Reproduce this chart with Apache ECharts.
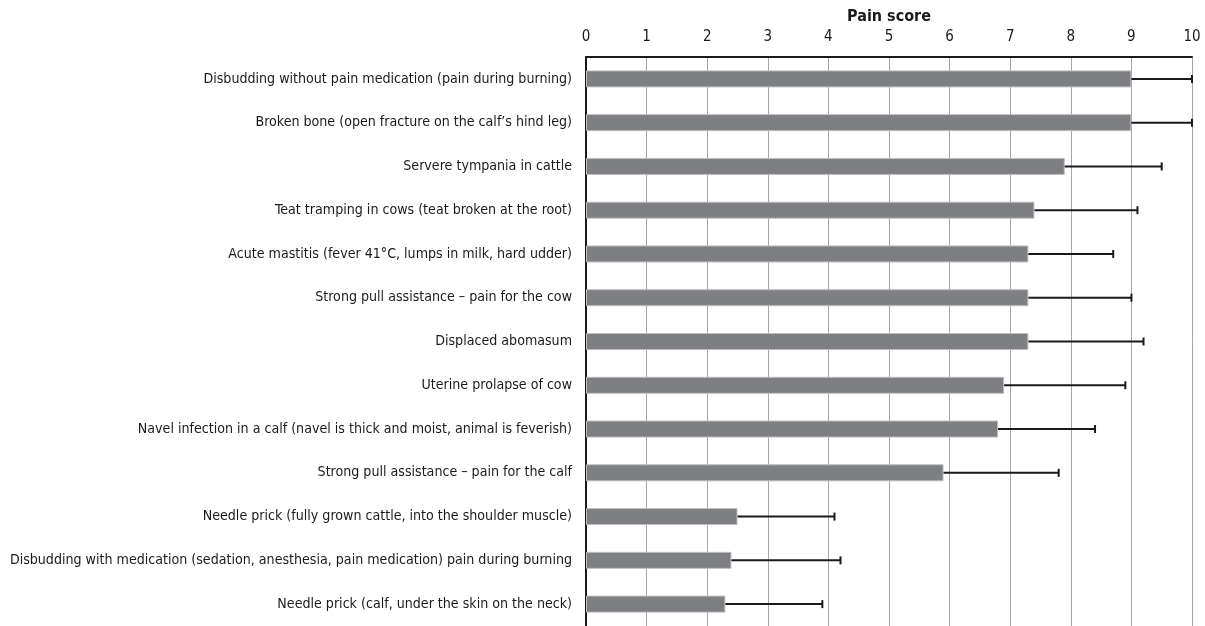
<!DOCTYPE html>
<html>
<head>
<meta charset="utf-8">
<script src="https://cdn.jsdelivr.net/npm/echarts@6/dist/echarts.min.js"></script>
<style>
  html, body { margin: 0; padding: 0; background: #fff; }
  #chart { width: 1205px; height: 626px; }
</style>
</head>
<body>
<div id="chart"></div>
<script>
// Pain scores per condition (mean) and the upper error-bar length
const categories = [
  'Disbudding without pain medication (pain during burning)',
  'Broken bone (open fracture on the calf\u2019s hind leg)',
  'Servere tympania in cattle',
  'Teat tramping in cows (teat broken at the root)',
  'Acute mastitis (fever 41\u00b0C, lumps in milk, hard udder)',
  'Strong pull assistance \u2013 pain for the cow',
  'Displaced abomasum',
  'Uterine prolapse of cow',
  'Navel infection in a calf (navel is thick and moist, animal is feverish)',
  'Strong pull assistance \u2013 pain for the calf',
  'Needle prick (fully grown cattle, into the shoulder muscle)',
  'Disbudding with medication (sedation, anesthesia, pain medication) pain during burning',
  'Needle prick (calf, under the skin on the neck)'
];
const meanScores = [9.0, 9.0, 7.9, 7.4, 7.3, 7.3, 7.3, 6.9, 6.8, 5.9, 2.5, 2.4, 2.3];
const errorUp   = [1.0, 1.0, 1.6, 1.7, 1.4, 1.7, 1.9, 2.0, 1.6, 1.9, 1.6, 1.8, 1.6];
const axisTicks = ['0', '1', '2', '3', '4', '5', '6', '7', '8', '9', '10'];

const FONT = '"Liberation Sans Narrow", "DejaVu Sans Condensed", "Liberation Sans", sans-serif';

const errorData = meanScores.map((v, i) => [i, v, v + errorUp[i]]);

const chart = echarts.init(document.getElementById('chart'));
chart.setOption({
  animation: false,
  backgroundColor: '#ffffff',
  grid: { left: 586, right: 13, top: 57, bottom: 0, containLabel: false },
  xAxis: {
    type: 'value',
    position: 'top',
    min: 0,
    max: 10,
    interval: 1,
    name: 'Pain score',
    nameLocation: 'middle',
    nameGap: 32,
    nameTextStyle: { fontFamily: FONT, fontSize: 16, fontWeight: 'bold', color: '#1a1a1a' },
    axisLine: { show: true, onZero: false, lineStyle: { color: '#1a1a1a', width: 2 } },
    axisTick: { show: false },
    axisLabel: {
      margin: 12,
      fontFamily: FONT, fontSize: 15, color: '#1a1a1a',
      formatter: v => axisTicks[Math.round(v)]
    },
    splitLine: { show: true, lineStyle: { color: '#a6a6a6', width: 1 } }
  },
  yAxis: {
    type: 'category',
    inverse: true,
    data: categories,
    axisLine: { show: true, lineStyle: { color: '#1a1a1a', width: 2 } },
    axisTick: { show: false },
    axisLabel: { margin: 14, fontFamily: FONT, fontSize: 14.1, color: '#1a1a1a' },
    splitLine: { show: false }
  },
  series: [
    {
      type: 'bar',
      data: meanScores,
      barWidth: 17,
      itemStyle: { color: '#7e7f82', borderColor: '#bdbdbd', borderWidth: 1 },
      z: 2
    },
    {
      type: 'custom',
      data: errorData,
      encode: { x: [1, 2], y: 0 },
      z: 3,
      renderItem: function (params, api) {
        const idx = api.value(0);
        const start = api.coord([api.value(1), idx]);
        const end = api.coord([api.value(2), idx]);
        const cap = 4;
        const style = { stroke: '#1a1a1a', lineWidth: 2 };
        return {
          type: 'group',
          children: [
            { type: 'line', shape: { x1: start[0], y1: start[1], x2: end[0], y2: end[1] }, style: style },
            { type: 'line', shape: { x1: end[0], y1: end[1] - cap, x2: end[0], y2: end[1] + cap }, style: style }
          ]
        };
      }
    }
  ]
});
</script>
</body>
</html>
